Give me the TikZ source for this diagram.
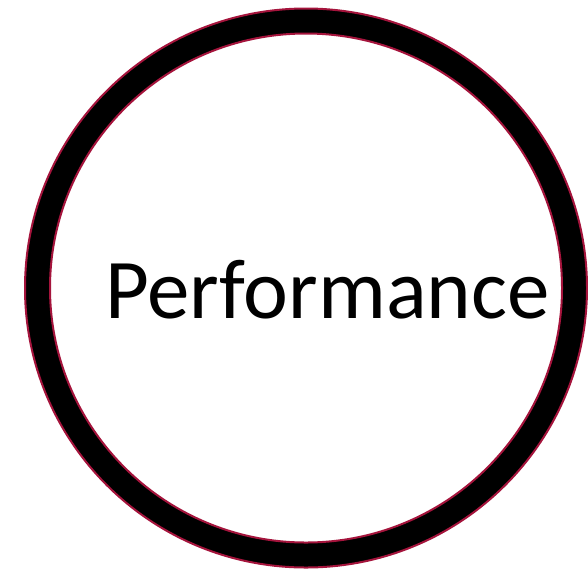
\documentclass[tikz,border=0pt]{standalone}
\usepackage{fontspec}
\setmainfont{Carlito}
\usepackage{xcolor}
\definecolor{ringred}{RGB}{165,20,60}

\begin{document}
\begin{tikzpicture}[x=1pt, y=-1pt]
    \useasboundingbox (0,0) rectangle (588,571);

    % thick ring
    \filldraw[black, draw=ringred, line width=2pt] (306,288) ellipse (281 and 279.5);
    \filldraw[white, draw=ringred, line width=2pt] (306,288) ellipse (256 and 254.5);

    \node[anchor=base, inner sep=0pt, font=\fontsize{85}{90}\selectfont] (perf) at (327.5,318) {Performance};

\end{tikzpicture}
\end{document}
